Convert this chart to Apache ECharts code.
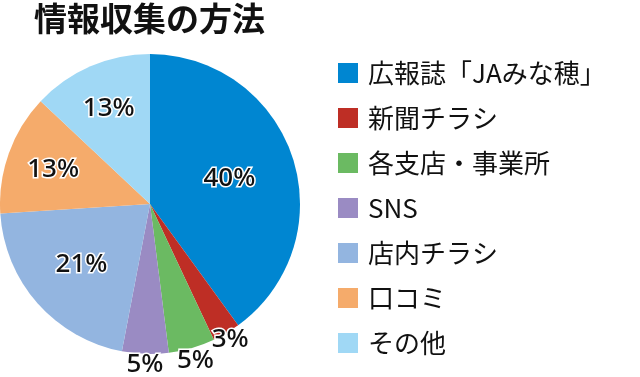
<!DOCTYPE html>
<html>
<head>
<meta charset="utf-8">
<script src="https://cdn.jsdelivr.net/npm/echarts@6/dist/echarts.min.js"></script>
<style>
html, body { margin: 0; padding: 0; background: #fff; }
#chart { width: 640px; height: 377px; }
</style>
</head>
<body>
<div id="chart"></div>
<script>
var titleText = '情報収集の方法';
var categories = ['広報誌「JAみな穂」', '新聞チラシ', '各支店・事業所', 'SNS', '店内チラシ', '口コミ', 'その他'];
var shares = [40, 3, 5, 5, 21, 13, 13];
var colors = ['#0086d1', '#be2e25', '#6bba62', '#9a8bc3', '#93b5e0', '#f5ab6b', '#a0d8f5'];
// how far each label sits, as a multiple of the default inside position
var labelPush = [1.07, 2.02, 2.09, 2.06, 1.17, 1.32, 1.33];

var cx = 150, cy = 204;
var chart = echarts.init(document.getElementById('chart'));

var pieData = categories.map(function (name, i) {
  return { name: name, value: shares[i] };
});

var option = {
  animation: false,
  color: colors,
  title: {
    text: titleText,
    left: 29,
    top: -3,
    textStyle: {
      fontFamily: 'Noto Sans CJK JP',
      fontSize: 33,
      fontWeight: 'bold',
      color: '#111'
    }
  },
  legend: {
    orient: 'vertical',
    left: 333,
    top: 55,
    itemWidth: 20,
    itemHeight: 20,
    itemGap: 19,
    icon: 'rect',
    data: categories,
    textStyle: {
      fontFamily: 'Noto Sans CJK JP',
      fontSize: 26,
      color: '#111',
      padding: [0, 0, 0, 5]
    }
  },
  series: [{
    type: 'pie',
    center: [cx, cy],
    radius: 150,
    startAngle: 90,
    clockwise: true,
    avoidLabelOverlap: false,
    label: {
      show: true,
      position: 'inside',
      formatter: '{c}%',
      fontFamily: 'Noto Sans',
      fontSize: 26,
      fontWeight: 500,
      color: '#111',
      textBorderColor: '#fff',
      textBorderWidth: 3
    },
    labelLine: { show: false },
    labelLayout: function (p) {
      var r = p.labelRect;
      var lx = r.x + r.width / 2;
      var ly = r.y + r.height / 2;
      var k = labelPush[p.dataIndex] - 1;
      return { dx: (lx - cx) * k, dy: (ly - cy) * k };
    },
    emphasis: { disabled: true },
    data: pieData
  }]
};

chart.setOption(option);
</script>
</body>
</html>
